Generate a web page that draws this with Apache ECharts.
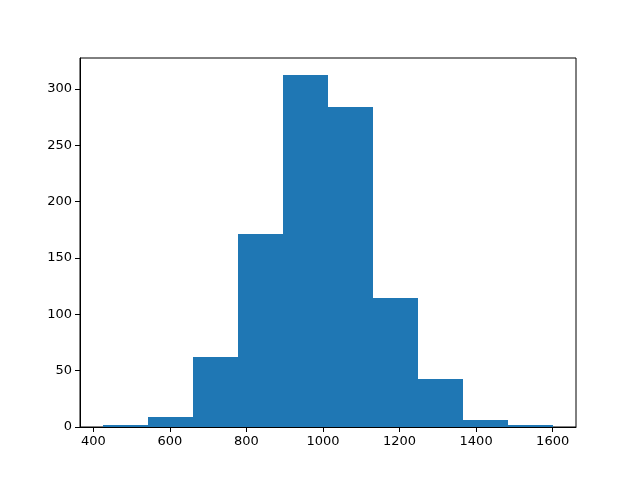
<!DOCTYPE html>
<html>
<head>
<meta charset="utf-8">
<script src="https://cdn.jsdelivr.net/npm/echarts@6/dist/echarts.min.js"></script>
<style>html,body{margin:0;padding:0;background:#fff;}#c{width:640px;height:480px;}</style>
</head>
<body>
<div id="c"></div>
<script>
var binStart = [425, 542.7, 660.4, 778.1, 895.8, 1013.5, 1131.2, 1248.9, 1366.6, 1484.3];
var binEnd = [542.7, 660.4, 778.1, 895.8, 1013.5, 1131.2, 1248.9, 1366.6, 1484.3, 1602];
var counts = [1, 8, 62, 171, 312, 284, 114, 42, 6, 1];
var xTicks = [400, 600, 800, 1000, 1200, 1400, 1600];
var yTicks = [0, 50, 100, 150, 200, 250, 300];

var data = binStart.map(function (s, i) { return [s, binEnd[i], counts[i]]; });
var chart = echarts.init(document.getElementById('c'), null, {renderer: 'canvas'});
var font = {fontFamily: 'DejaVu Sans', fontSize: 13, color: '#000'};
function fmt(v) { return String(v); }
chart.setOption({
  animation: false,
  grid: {left: 80, right: 64, top: 58, bottom: 53, show: true, borderColor: '#000', borderWidth: 1, backgroundColor: 'transparent'},
  xAxis: {
    type: 'value', min: 365, max: 1661,
    axisLine: {show: true, onZero: false, lineStyle: {color: '#000', width: 1}},
    axisTick: {show: true, length: 5, customValues: xTicks, lineStyle: {color: '#000'}},
    axisLabel: Object.assign({margin: 8, customValues: xTicks, formatter: fmt}, font),
    splitLine: {show: false}
  },
  yAxis: {
    type: 'value', min: 0, max: 327.6,
    axisLine: {show: true, lineStyle: {color: '#000', width: 1}},
    axisTick: {show: true, length: 5, customValues: yTicks, lineStyle: {color: '#000'}},
    axisLabel: Object.assign({margin: 8, customValues: yTicks, formatter: fmt}, font),
    splitLine: {show: false}
  },
  series: [{
    type: 'custom',
    data: data,
    encode: {x: [0, 1], y: 2},
    z: 1,
    renderItem: function (params, api) {
      var p0 = api.coord([api.value(0), 0]);
      var p1 = api.coord([api.value(1), api.value(2)]);
      var x0 = Math.round(p0[0]), x1 = Math.round(p1[0]);
      var yb = Math.round(p0[1]), yt = Math.floor(p1[1]);
      return {
        type: 'rect',
        shape: {x: x0, y: yt, width: x1 - x0, height: yb - yt},
        style: {fill: '#1f77b4'}
      };
    }
  }]
});
</script>
</body>
</html>
